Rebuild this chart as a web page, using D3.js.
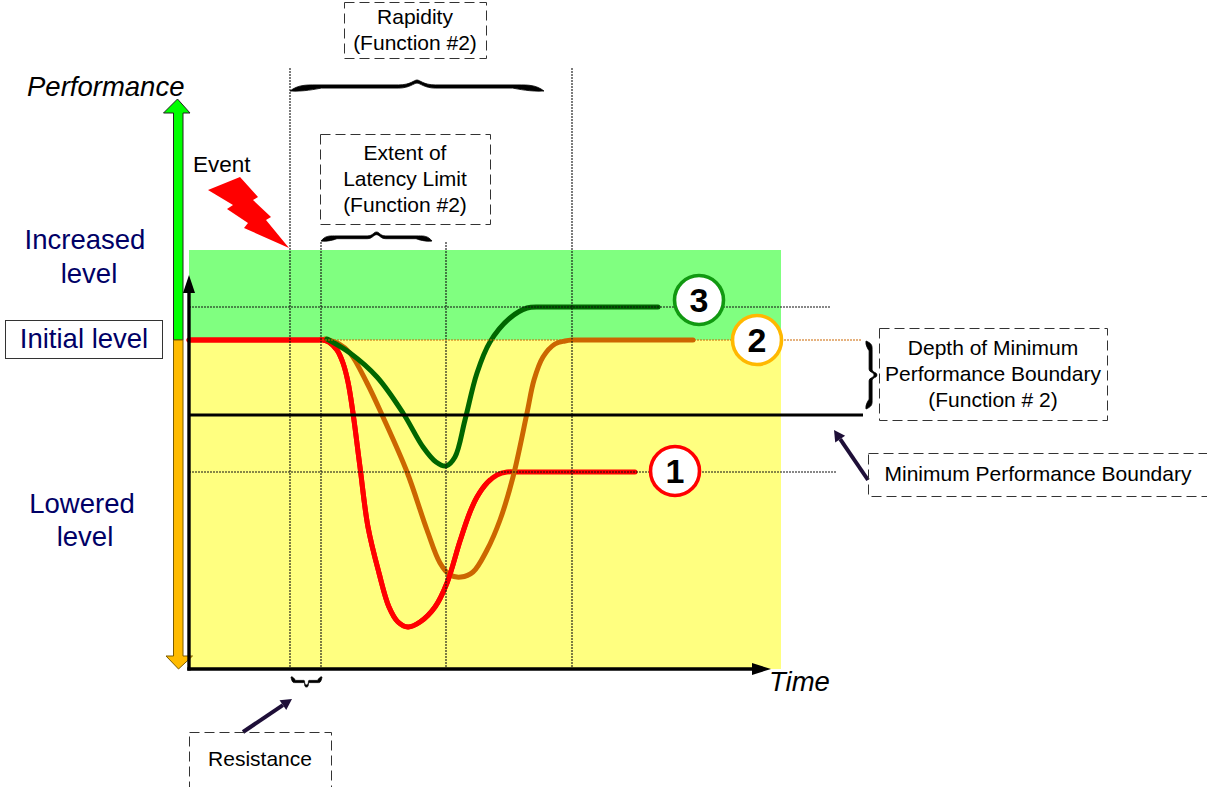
<!DOCTYPE html>
<html>
<head>
<meta charset="utf-8">
<script src="https://cdn.jsdelivr.net/npm/d3@7"></script>
<style>
html, body { margin: 0; padding: 0; background: white; }
svg { display: block; font-family: "Liberation Sans", Arial, sans-serif; }
</style>
</head>
<body>
<div id="container"></div>
<script>
// Resilience curves: performance against time, with the event and the three recovery functions

const width = 1207;
const height = 787;

// chart values
const curve1 = [[0,329],[120,329],[128,329],[134,329],[140,327],[148,319],[154,306],[159,287],[164,256],[171,202],[179,142],[190,96],[200,62],[209,47],[219,42],[231,47],[246,62],[258,86],[271,128],[281,157],[288,172],[298,186],[308,194],[318,197],[328,197],[336,197],[446,197]];
const curve2 = [[136,330],[150,325],[161,316],[178,286],[194,252],[218,197],[238,139],[251,106],[261,94],[272,92],[284,97],[298,119],[311,149],[324,192],[338,256],[345,289],[354,312],[366,325],[376,328],[383,329],[392,329],[400,329],[504,329]];
const curve3 = [[138,330],[161,316],[188,292],[214,256],[234,222],[247,207],[257,203],[266,212],[276,249],[288,296],[301,327],[321,351],[338,361],[351,362],[360,362],[368,362],[469,362]];
const timeMarks = [101, 132, 257, 383];
const timeMarkTops = [68, 242, 242, 68];
const initialLevel = 329;
const topLevel = 419;
const boundaryLevel = 254;
const guideLevels = [362, 197];
const guideEnds = [641, 647];

const x = d3.scaleLinear().domain([0, 592]).range([189, 781]);
const y = d3.scaleLinear().domain([0, 419]).range([669, 250]);

const svg = d3.select("#container")
    .append("svg")
    .attr("width", width)
    .attr("height", height);

// background bands
svg.append("rect")
    .attr("x", x(0)).attr("y", y(topLevel))
    .attr("width", x(592) - x(0)).attr("height", y(initialLevel) - y(topLevel))
    .attr("fill", "#80ff80");
svg.append("rect")
    .attr("x", x(0)).attr("y", y(initialLevel))
    .attr("width", x(592) - x(0)).attr("height", y(0) - y(initialLevel))
    .attr("fill", "#ffff80");

svg.append("clipPath").attr("id", "dip")
    .append("rect")
    .attr("x", 0).attr("y", 0).attr("width", x(300)).attr("height", height);

// curves
const line = d3.line().x(d => x(d[0])).y(d => y(d[1])).curve(d3.curveCatmullRom.alpha(0.5));

function drawCurve(points, color, clip) {
    const p = svg.append("path")
        .attr("d", line(points))
        .attr("fill", "none")
        .attr("stroke", color)
        .attr("stroke-width", 5)
        .attr("stroke-linecap", "round");
    if (clip) p.attr("clip-path", "url(#dip)");
}

// red tail goes under the orange, red dip goes over it
drawCurve(curve1, "#ff0000");
drawCurve(curve2, "#cc6600");
drawCurve(curve1, "#ff0000", true);
drawCurve(curve3, "#006600");

// dotted guides
timeMarks.forEach((t, i) => {
    svg.append("line")
        .attr("x1", x(t)).attr("x2", x(t))
        .attr("y1", timeMarkTops[i]).attr("y2", y(0))
        .attr("stroke", "#111").attr("stroke-width", 1.1)
        .attr("stroke-dasharray", "2 1");
});
guideLevels.forEach((v, i) => {
    svg.append("line")
        .attr("x1", x(0)).attr("x2", x(guideEnds[i]))
        .attr("y1", y(v)).attr("y2", y(v))
        .attr("stroke", "#111").attr("stroke-width", 1.1)
        .attr("stroke-dasharray", "2 1");
});
svg.append("line")
    .attr("x1", x(133)).attr("x2", x(673))
    .attr("y1", y(initialLevel)).attr("y2", y(initialLevel))
    .attr("stroke", "#cc6600").attr("stroke-width", 1.1)
    .attr("stroke-dasharray", "2 1");

// minimum performance boundary
svg.append("line")
    .attr("x1", x(0)).attr("x2", x(674))
    .attr("y1", y(boundaryLevel)).attr("y2", y(boundaryLevel))
    .attr("stroke", "black").attr("stroke-width", 2.8);

// performance arrow, green above the initial level and orange below
function poly(points, fill, stroke) {
    svg.append("polygon")
        .attr("points", points.map(p => p.join(",")).join(" "))
        .attr("fill", fill)
        .attr("stroke", stroke || "none")
        .attr("stroke-width", 1);
}
const barL = 173.5, barR = 183, barC = 177.5;
poly([[barL, y(initialLevel)], [barL, 113], [163.5, 113], [barC, 99], [190, 113], [barR, 113], [barR, y(initialLevel)]], "#00ff00", "#222");
poly([[barL, y(initialLevel)], [barL, 656], [166, 656], [barC + 1, 669], [192.5, 656], [barR, 656], [barR, y(initialLevel)]], "#ffbb00", "#7a5a00");

// axes
svg.append("line")
    .attr("x1", x(0)).attr("x2", x(0)).attr("y1", y(0) + 1.5).attr("y2", 290)
    .attr("stroke", "black").attr("stroke-width", 3.4);
poly([[183, 293], [x(0), 275], [195, 293]], "black");
svg.append("line")
    .attr("x1", x(0) - 1.7).attr("x2", 755).attr("y1", y(0)).attr("y2", y(0))
    .attr("stroke", "black").attr("stroke-width", 3.4);
poly([[752, 663], [771, 669], [752, 675]], "black");

// event bolt
poly([[208,190],[240,177],[258,197],[253,200],[271,217],[266,220],[289,248],[244,228],[248,223],[227,209],[233,205]], "#ff0000");

// number badges
[[699, 300, "#119911", "3"], [757, 340, "#ffb800", "2"], [675, 471, "#ff0000", "1"]].forEach(b => {
    svg.append("circle")
        .attr("cx", b[0]).attr("cy", b[1]).attr("r", 24.5)
        .attr("fill", "white").attr("stroke", b[2]).attr("stroke-width", 3.6);
    svg.append("text")
        .attr("x", b[0]).attr("y", b[1] + 12)
        .attr("text-anchor", "middle")
        .attr("font-size", 34).attr("font-weight", "bold")
        .text(b[3]);
});

// curly braces, drawn along +x with the tip towards -y
function brace(x0, y0, len, h, rotate, thick) {
    const m = len / 2, s = Math.min(len * 0.12, 26), c = h * 0.5;
    const path = `M0,${h}
      C${s * 0.3},${c - 0.6} ${s * 0.6},${c - 0.6} ${s},${c - 0.6}
      L${m - s * 0.7},${c - 0.6}
      C${m - s * 0.25},${c - 0.6} ${m - 3},0 ${m},0
      C${m + 3},0 ${m + s * 0.25},${c - 0.6} ${m + s * 0.7},${c - 0.6}
      L${len - s},${c - 0.6}
      C${len - s * 0.6},${c - 0.6} ${len - s * 0.3},${c - 0.6} ${len},${h}
      C${len - s * 0.5},${h + 0.8} ${len - s},${c + thick + 1} ${len - s * 1.2},${c + thick}
      L${m + s * 0.7},${c + thick}
      C${m + s * 0.3},${c + thick} ${m + 3},${thick + 0.5} ${m},${thick + 0.5}
      C${m - 3},${thick + 0.5} ${m - s * 0.3},${c + thick} ${m - s * 0.7},${c + thick}
      L${s * 1.2},${c + thick}
      C${s},${c + thick + 1} ${s * 0.5},${h + 0.8} 0,${h}Z`;
    svg.append("path")
        .attr("d", path)
        .attr("transform", `translate(${x0},${y0}) rotate(${rotate})`)
        .attr("fill", "black")
        .attr("stroke", "black")
        .attr("stroke-width", 0.8);
}
brace(290, 80, 254, 11, 0, 2.6);
brace(321, 232, 111, 9, 0, 2.2);
brace(322, 687, 31, 10, 180, 1.6);
brace(877, 341, 68, 11, 90, 2.4);

// thin pointer arrows
function pointer(x1, y1, x2, y2) {
    const a = Math.atan2(y2 - y1, x2 - x1), len = 11, w = 6;
    const bx = x2 - len * Math.cos(a), by = y2 - len * Math.sin(a);
    svg.append("line")
        .attr("x1", x1).attr("y1", y1).attr("x2", bx).attr("y2", by)
        .attr("stroke", "#1e0f38").attr("stroke-width", 4);
    poly([[bx - w * Math.sin(a), by + w * Math.cos(a)], [x2, y2], [bx + w * Math.sin(a), by - w * Math.cos(a)]], "#1e0f38");
}
pointer(243, 732, 292, 699);
pointer(868, 480, 834, 430);

// dashed note boxes
function noteBox(bx, by, bw, bh, lines, cx, firstBaseline, step) {
    svg.append("rect")
        .attr("x", bx).attr("y", by).attr("width", bw).attr("height", bh)
        .attr("fill", "none")
        .attr("stroke", "#333").attr("stroke-width", 1)
        .attr("stroke-dasharray", "10 5");
    lines.forEach((t, i) => {
        svg.append("text")
            .attr("x", cx).attr("y", firstBaseline + i * step)
            .attr("text-anchor", "middle")
            .attr("font-size", 21)
            .text(t);
    });
}
noteBox(344.5, 2.5, 142, 56, ["Rapidity", "(Function #2)"], 415, 24, 26);
noteBox(320.5, 134.5, 170, 90, ["Extent of", "Latency Limit", "(Function #2)"], 405, 160, 26);
noteBox(879.5, 328.5, 228, 92, ["Depth of Minimum", "Performance Boundary", "(Function # 2)"], 993, 355, 26);
noteBox(868.5, 453.5, 345, 43, ["Minimum Performance Boundary"], 1038, 481, 0);
noteBox(189.5, 732.5, 142, 60, ["Resistance"], 260, 766, 0);

// free labels
const levelColor = "#000066";
function label(t, lx, ly, size, color, anchor, italic) {
    svg.append("text")
        .attr("x", lx).attr("y", ly)
        .attr("text-anchor", anchor || "middle")
        .attr("font-size", size)
        .attr("font-style", italic ? "italic" : "normal")
        .attr("fill", color || "black")
        .text(t);
}
label("Performance", 27, 96, 27.5, "black", "start", true);
label("Time", 769, 691, 27.5, "black", "start", true);
label("Event", 193, 172, 22.5, "black", "start");
label("Increased", 85, 249, 27.5, levelColor);
label("level", 89, 283, 27.5, levelColor);
label("Lowered", 82, 513, 27.5, levelColor);
label("level", 85, 546, 27.5, levelColor);

svg.append("rect")
    .attr("x", 5.5).attr("y", 320.5).attr("width", 157).attr("height", 38)
    .attr("fill", "white").attr("stroke", "#333").attr("stroke-width", 1);
label("Initial level", 84, 348, 27.5, levelColor);
</script>
</body>
</html>
